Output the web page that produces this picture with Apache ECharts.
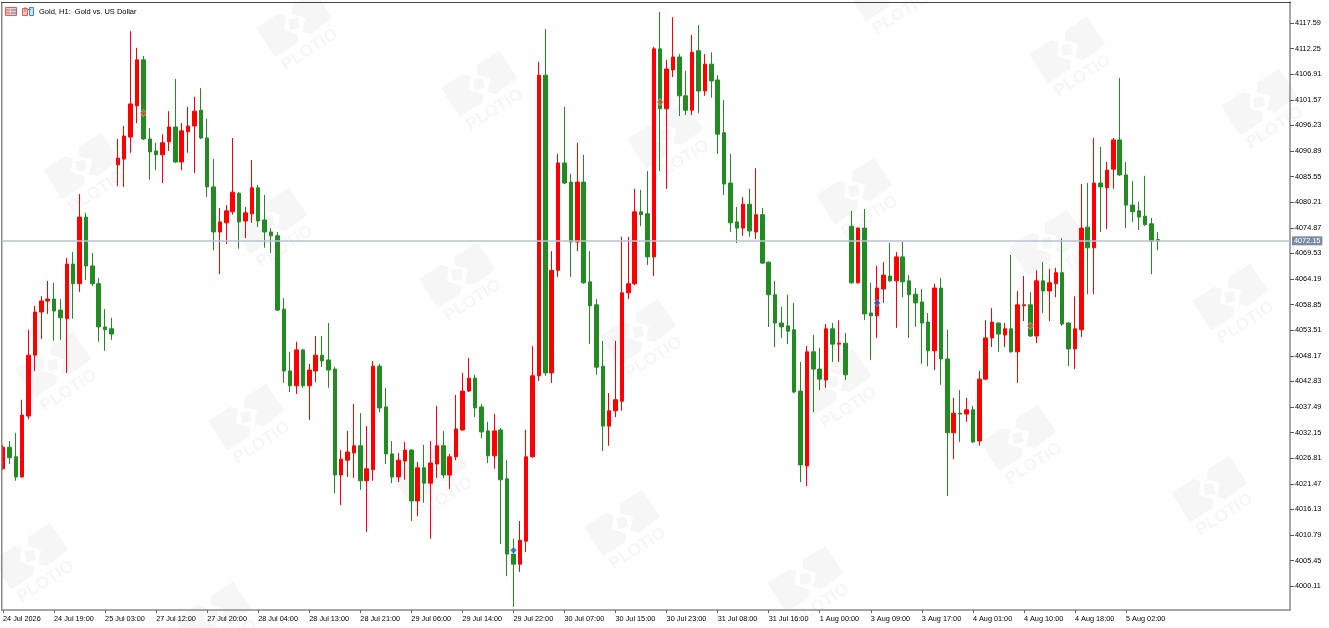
<!DOCTYPE html>
<html>
<head>
<meta charset="utf-8">
<style>html,body{margin:0;padding:0;background:#fff;overflow:hidden}#c{width:1329px;height:628px}</style>
<script src="https://cdn.jsdelivr.net/npm/echarts@6/dist/echarts.min.js"></script>
</head>
<body>
<div id="c"></div>
<script>
const chartTitle = 'Gold, H1:  Gold vs. US Dollar';
const currentPrice = 4072.15;
const opens = [
4024.6,4029.1,4027.1,4022.9,4035.6,4048.3,4057.3,4059.6,4060.0,4057.7,
4055.9,4067.3,4063.2,4077.1,4066.9,4063.2,4054.2,4053.8,4088.0,4089.2,
4093.8,4100.3,4109.9,4093.4,4090.9,4090.1,4092.8,4095.9,4088.6,4094.9,
4096.1,4099.4,4093.6,4083.4,4074.0,4075.9,4078.2,4082.1,4076.3,4077.8,
4083.2,4076.5,4074.0,4073.2,4057.9,4045.0,4041.9,4049.4,4041.9,4045.0,
4048.3,4047.3,4045.4,4023.3,4026.4,4027.9,4029.4,4022.1,4024.4,4046.0,
4037.5,4027.7,4022.9,4026.2,4028.5,4017.9,4024.8,4021.6,4025.6,4029.4,
4023.3,4027.1,4032.7,4040.8,4043.5,4037.5,4032.5,4027.3,4032.7,4022.5,
4006.8,4004.7,4009.5,4027.1,4044.0,4106.7,4044.6,4066.0,4088.4,4084.4,
4071.9,4084.4,4063.6,4058.8,4046.0,4033.5,4036.7,4038.7,4061.3,4063.2,
4078.2,4077.8,4068.8,4112.2,4099.7,4107.8,4110.5,4102.4,4099.4,4111.8,
4103.4,4109.0,4105.7,4094.7,4084.2,4076.1,4074.8,4079.8,4074.0,4077.6,
4067.7,4060.9,4055.0,4054.4,4053.6,4040.8,4025.2,4049.0,4045.4,4043.1,
4053.8,4050.6,4050.8,4075.2,4063.4,4074.8,4057.1,4056.5,4062.1,4064.8,
4063.8,4068.8,4063.8,4061.0,4059.4,4055.2,4049.2,4062.3,4047.5,4032.1,
4036.2,4036.0,4036.9,4030.4,4043.3,4051.9,4055.0,4052.5,4053.8,4049.0,
4058.6,4058.8,4052.3,4063.8,4061.7,4063.2,4065.5,4055.0,4049.6,4053.6,
4075.0,4070.7,4084.2,4083.2,4087.1,4093.2,4085.9,4079.6,4078.4,4077.3,
4075.7,4072.4];
const closes = [
4029.1,4026.9,4022.9,4035.8,4048.3,4057.3,4059.6,4060.0,4057.5,4056.1,
4067.3,4063.2,4077.1,4066.9,4063.2,4054.2,4053.6,4052.7,4089.4,4094.0,
4100.7,4109.9,4093.4,4090.7,4090.1,4092.6,4095.9,4088.6,4095.1,4096.1,
4099.2,4093.6,4083.4,4074.0,4076.1,4078.4,4082.3,4076.1,4078.0,4083.2,
4076.3,4074.0,4073.2,4057.7,4045.0,4041.9,4049.4,4041.9,4045.2,4048.3,
4047.1,4045.2,4023.3,4026.6,4028.1,4029.4,4022.1,4024.6,4046.0,4037.3,
4027.7,4022.9,4026.4,4028.5,4017.9,4024.8,4021.6,4025.8,4029.4,4023.3,
4027.1,4032.9,4040.8,4043.5,4037.3,4032.3,4027.3,4032.5,4022.3,4006.8,
4004.7,4009.7,4027.1,4044.0,4106.7,4044.6,4066.0,4088.4,4084.2,4071.9,
4084.4,4063.4,4058.6,4045.8,4033.5,4036.7,4039.0,4061.3,4063.2,4078.2,
4077.6,4068.8,4112.2,4099.7,4108.0,4110.5,4102.4,4099.4,4111.5,4103.4,
4109.0,4105.5,4094.4,4084.0,4075.9,4074.8,4079.8,4074.2,4077.6,4067.5,
4060.9,4055.0,4054.2,4053.3,4040.6,4025.4,4049.0,4045.4,4043.3,4053.8,
4050.6,4050.8,4044.2,4063.4,4074.8,4056.9,4056.5,4062.3,4065.0,4063.8,
4068.8,4063.6,4060.9,4059.2,4055.0,4049.2,4062.3,4047.5,4032.1,4036.2,
4036.0,4036.9,4030.2,4043.3,4051.9,4055.2,4052.7,4053.8,4049.0,4058.8,
4058.8,4052.3,4063.8,4061.7,4063.4,4065.5,4054.8,4049.6,4053.8,4074.8,
4070.7,4084.2,4083.4,4086.9,4093.2,4085.9,4079.6,4078.2,4077.1,4075.5,
4072.1,4072.15];
const lows = [
4024.4,4025.6,4022.1,4022.8,4035.0,4045.0,4051.7,4056.9,4051.3,4051.5,
4044.6,4055.9,4061.5,4064.0,4062.7,4051.1,4049.2,4051.5,4083.6,4083.4,
4090.5,4096.7,4093.2,4084.9,4086.9,4084.2,4090.9,4088.4,4086.9,4090.5,
4086.3,4093.4,4081.3,4070.2,4065.2,4071.5,4077.6,4070.5,4072.7,4075.9,
4075.0,4070.7,4069.6,4057.5,4042.5,4040.6,4040.2,4041.5,4034.8,4042.7,
4045.8,4041.5,4019.5,4017.0,4022.9,4022.7,4020.2,4011.4,4022.1,4036.4,
4025.6,4021.6,4021.8,4022.3,4013.7,4014.7,4017.5,4010.0,4022.7,4022.7,
4020.4,4026.4,4032.5,4040.6,4035.4,4031.0,4025.8,4024.6,4008.9,4002.2,
3995.8,4003.1,4007.2,4026.9,4042.9,4044.0,4042.5,4064.6,4084.0,4064.6,
4070.0,4063.2,4050.6,4044.2,4028.3,4029.4,4035.4,4036.7,4060.0,4062.9,
4075.2,4067.1,4064.8,4086.7,4083.0,4106.3,4098.2,4098.4,4098.4,4098.8,
4102.4,4102.0,4090.3,4081.7,4074.0,4071.7,4073.2,4073.0,4072.5,4067.3,
4054.2,4050.0,4051.9,4050.6,4040.4,4021.8,4021.0,4036.4,4041.0,4041.5,
4046.9,4046.9,4043.1,4063.2,4063.2,4055.6,4047.3,4051.9,4059.2,4063.6,
4054.0,4060.4,4051.9,4054.2,4046.5,4046.0,4045.2,4042.1,4018.9,4026.6,
4030.2,4034.4,4030.0,4029.4,4043.1,4050.0,4049.0,4050.0,4048.8,4042.5,
4055.4,4052.1,4050.8,4057.1,4055.4,4060.4,4054.4,4046.0,4045.4,4052.1,
4061.0,4061.0,4074.0,4074.6,4083.0,4085.7,4074.8,4076.1,4074.4,4075.3,
4065.2,4070.2];
const highs = [
4029.6,4030.4,4032.1,4039.0,4053.6,4058.6,4060.6,4063.8,4063.4,4060.0,
4068.6,4069.8,4081.9,4078.0,4069.6,4064.4,4057.9,4056.1,4093.4,4096.1,
4115.9,4112.4,4110.7,4095.7,4092.6,4094.4,4099.2,4105.9,4096.7,4100.1,
4102.2,4104.0,4097.6,4089.2,4079.0,4079.6,4093.6,4082.3,4079.2,4089.0,
4083.8,4081.7,4074.8,4074.0,4060.2,4049.0,4051.1,4049.6,4046.5,4052.3,
4052.3,4055.0,4045.8,4028.5,4032.5,4038.1,4036.2,4033.5,4047.1,4046.5,
4041.5,4030.4,4027.9,4030.2,4028.7,4026.0,4029.6,4030.4,4037.7,4032.5,
4027.7,4040.0,4044.6,4047.7,4044.2,4038.1,4034.4,4036.0,4033.1,4026.4,
4010.0,4013.7,4032.7,4050.2,4109.5,4116.3,4070.0,4090.3,4100.1,4086.1,
4092.6,4090.1,4070.0,4060.0,4051.3,4040.4,4051.3,4073.0,4073.0,4083.0,
4082.8,4086.7,4112.6,4119.9,4109.9,4118.8,4111.1,4107.6,4115.1,4117.2,
4111.1,4111.5,4106.7,4101.5,4090.3,4079.2,4081.3,4083.0,4087.3,4079.0,
4067.8,4063.8,4058.4,4060.9,4059.2,4046.9,4050.2,4052.5,4049.8,4054.8,
4055.0,4055.6,4052.9,4078.4,4074.9,4078.8,4063.4,4066.9,4067.7,4071.7,
4069.8,4071.9,4065.0,4062.3,4062.1,4057.1,4063.2,4064.4,4053.6,4039.4,
4041.0,4039.4,4037.7,4045.0,4055.6,4058.1,4055.1,4055.0,4069.2,4061.7,
4064.8,4061.5,4066.0,4067.7,4066.3,4066.5,4072.7,4055.2,4060.6,4084.0,
4084.2,4093.6,4091.7,4088.6,4093.6,4106.1,4088.6,4084.6,4080.3,4085.7,
4076.9,4074.0];
const timeTickBars = [0,8,16,24,32,40,48,56,64,72,80,88,96,104,112,120,128,136,144,152,160,168,176];
const timeTickLabels = ['24 Jul 2026','24 Jul 19:00','25 Jul 03:00','27 Jul 12:00','27 Jul 20:00','28 Jul 04:00','28 Jul 13:00','28 Jul 21:00','29 Jul 06:00','29 Jul 14:00','29 Jul 22:00','30 Jul 07:00','30 Jul 15:00','30 Jul 23:00','31 Jul 08:00','31 Jul 16:00','1 Aug 00:00','3 Aug 09:00','3 Aug 17:00','4 Aug 01:00','4 Aug 10:00','4 Aug 18:00','5 Aug 02:00'];
const priceTicks = [4117.59,4112.25,4106.91,4101.57,4096.23,4090.89,4085.55,4080.21,4074.87,4069.53,4064.19,4058.85,4053.51,4048.17,4042.83,4037.49,4032.15,4026.81,4021.47,4016.13,4010.79,4005.45,4000.11];
const sellMarkers = [[22,4098.8],[103,4101.1],[161,4054.4]];
const buyMarkers = [[80,4007.6],[137,4059.2]];
const watermarkCenters = [[30,556],[53,365],[81,166],[213,615],[246,417],[269,221],[294,24],[429,472],[457,275],[479,84],[622,523],[638,332],[665,135],[805,579],[833,382],[854,191],[885,-12],[1018,438],[1047,243],[1067,50],[1209,489],[1230,297],[1259,102]];

const FONT = '"Liberation Sans", Arial, sans-serif';
const WM = '#f6f6f6';
function wm(c){
  return {type:'group',x:c[0],y:c[1],silent:true,children:[
    {type:'polygon',shape:{points:[[-1.7,-19.3],[20,-33.3],[38.3,-6],[16.7,10],[8.3,8],[11,-6],[-2.3,-10]]},style:{fill:WM}},
    {type:'polygon',shape:{points:[[-37.7,4],[-15.7,-10],[-8.3,-7.7],[-10,5.7],[4.3,10.7],[3.3,19],[-19,33.3]]},style:{fill:WM}},
    {type:'polygon',shape:{points:[[-6,-4.5],[4,-6],[6,4],[-4,6]]},style:{fill:WM}},
    {type:'text',x:15.7,y:25.7,rotation:0.57,style:{text:'PLOTIO',font:'bold 17px '+FONT,fill:WM,align:'center',verticalAlign:'middle'}}
  ]};
}
const icons = [
  {type:'rect',shape:{x:5.5,y:7.5,width:11,height:8},style:{fill:'#f6c8c0',stroke:'#e0604f',lineWidth:1}},
  {type:'line',shape:{x1:11,y1:10,x2:17,y2:10},style:{stroke:'#3f86d0',lineWidth:1}},
  {type:'line',shape:{x1:11,y1:13,x2:17,y2:13},style:{stroke:'#3f86d0',lineWidth:1}},
  {type:'line',shape:{x1:6,y1:10,x2:10,y2:10},style:{stroke:'#e0604f',lineWidth:1}},
  {type:'line',shape:{x1:6,y1:13,x2:10,y2:13},style:{stroke:'#e0604f',lineWidth:1}},
  {type:'rect',shape:{x:22.5,y:8.5,width:5,height:7},style:{fill:'#f6c8c0',stroke:'#e0604f',lineWidth:1}},
  {type:'rect',shape:{x:29.5,y:7.5,width:4,height:8},style:{fill:'#cfe3f6',stroke:'#3f86d0',lineWidth:1}},
  {type:'line',shape:{x1:25,y1:7,x2:25,y2:12},style:{stroke:'#e0604f',lineWidth:1}},
  {type:'line',shape:{x1:28,y1:9.5,x2:31,y2:9.5},style:{stroke:'#3f86d0',lineWidth:1}}
];
const frame = [
  {type:'rect',shape:{x:1,y:2,width:1.5,height:609},style:{fill:'#8a8a8a'},z:5},
  {type:'rect',shape:{x:1,y:2,width:1290,height:1},style:{fill:'#444'},z:5}
];
const chart = echarts.init(document.getElementById('c'),null,{renderer:'canvas'});
chart.setOption({
  animation:false,
  backgroundColor:'#fff',
  title:{text:chartTitle,left:39,top:8,padding:0,textStyle:{fontFamily:FONT,fontSize:7.5,fontWeight:'normal',color:'#000'}},
  grid:{left:1.9,top:2,width:1288.1,height:608,containLabel:false},
  xAxis:{type:'value',min:0,max:201.7,interval:8,position:'bottom',
    splitLine:{show:false},
    axisLine:{show:true,onZero:false,lineStyle:{color:'#8a8a8a',width:1.5}},
    axisTick:{show:true,inside:false,length:3,lineStyle:{color:'#666',width:1},customValues:timeTickBars},
    axisLabel:{show:true,margin:5,align:'left',fontFamily:FONT,fontSize:7.3,color:'#000',customValues:timeTickBars,hideOverlap:false,
      formatter:v=>timeTickLabels[timeTickBars.indexOf(v)]||''}},
  yAxis:{type:'value',position:'right',min:3995.14,max:4121.97,scale:true,
    splitLine:{show:false},
    axisLine:{show:true,onZero:false,lineStyle:{color:'#8a8a8a',width:1.5}},
    axisTick:{show:true,inside:false,length:4,lineStyle:{color:'#555',width:1},customValues:priceTicks},
    axisLabel:{show:true,margin:5,fontFamily:FONT,fontSize:7.3,color:'#000',customValues:priceTicks,hideOverlap:false,
      formatter:v=>v.toFixed(2)}},
  graphic:watermarkCenters.map(wm).concat(icons,frame),
  series:[
    {type:'line',data:[],z:1,silent:true,symbol:'none',
      markLine:{silent:true,symbol:'none',animation:false,
        lineStyle:{color:'#b9c2ce',width:1.5,type:'solid'},
        label:{show:true,position:'end',distance:2,formatter:()=>currentPrice.toFixed(2),fontFamily:FONT,fontSize:7.3,color:'#fff',backgroundColor:'#7b8ca2',padding:[1,2,1,2]},
        data:[{yAxis:currentPrice}]}},
    {type:'candlestick',z:2,barWidth:4,clip:true,encode:{x:0,y:[1,2,3,4]},
      data:opens.map((o,i)=>[i,o,closes[i],lows[i],highs[i]]),
      itemStyle:{color:'#ff0000',color0:'#228b22',borderColor:'#ff0000',borderColor0:'#228b22',borderWidth:1}},
    {type:'scatter',z:3,symbol:'diamond',symbolSize:7,data:sellMarkers,itemStyle:{color:'#e8502a',borderColor:'#fff',borderWidth:0.5}},
    {type:'scatter',z:3,symbol:'diamond',symbolSize:7,data:buyMarkers,itemStyle:{color:'#1565c0',borderColor:'#fff',borderWidth:0.5}}
  ]
});
</script>
</body>
</html>
